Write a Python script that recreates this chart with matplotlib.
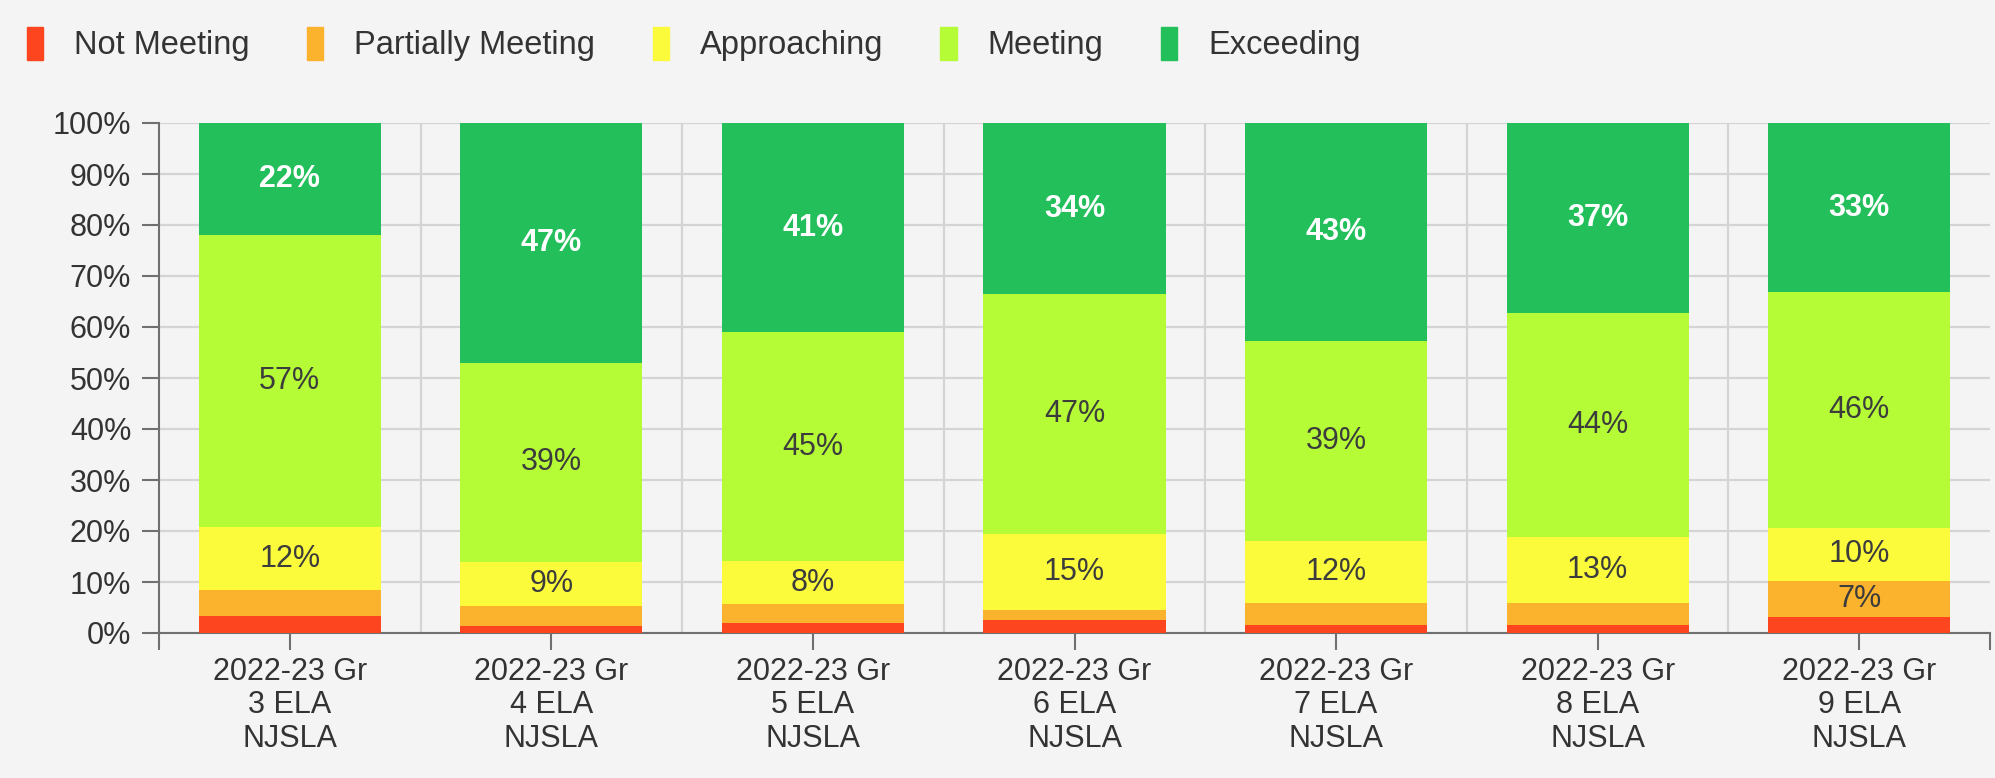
import matplotlib
matplotlib.use('Agg')
import matplotlib.pyplot as plt
import matplotlib.patches as mpatches
import numpy as np

plt.rcParams['font.family'] = ['Liberation Sans', 'DejaVu Sans']

# categories (x labels)
grades = ["2022-23 Gr\n3 ELA\nNJSLA", "2022-23 Gr\n4 ELA\nNJSLA", "2022-23 Gr\n5 ELA\nNJSLA",
          "2022-23 Gr\n6 ELA\nNJSLA", "2022-23 Gr\n7 ELA\nNJSLA", "2022-23 Gr\n8 ELA\nNJSLA",
          "2022-23 Gr\n9 ELA\nNJSLA"]

levels = ["Not Meeting", "Partially Meeting", "Approaching", "Meeting", "Exceeding"]

# percentages per level
not_meeting = [3.3, 1.3, 1.9, 2.5, 1.6, 1.5, 3.2]
partially = [5.1, 3.9, 3.8, 2.0, 4.3, 4.3, 7.0]
approaching = [12.4, 8.8, 8.4, 14.9, 12.2, 13.1, 10.4]
meeting = [57.2, 39.0, 44.9, 47.0, 39.2, 43.8, 46.2]
exceeding = [22.0, 47.0, 41.0, 33.6, 42.7, 37.3, 33.2]

series = [not_meeting, partially, approaching, meeting, exceeding]
colors = ["#fd4520", "#fbb32e", "#fbfb3c", "#b5fc37", "#22bf5b"]

bg = "#f4f4f4"
fig = plt.figure(figsize=(19.95, 7.78), dpi=100, facecolor=bg)
ax = fig.add_axes([159 / 1995, 145 / 778, 1831 / 1995, 510 / 778])
ax.set_facecolor(bg)

x = np.arange(len(grades))
bottom = np.zeros(len(grades))
for i, (vals, col) in enumerate(zip(series, colors)):
    vals = np.array(vals)
    ax.bar(x, vals, bottom=bottom, width=0.696, color=col, zorder=3)
    for xi, v, b in zip(x, vals, bottom):
        if v >= 6.5:
            if i == 4:
                ax.text(xi, b + v / 2, f"{v:.0f}%", ha="center", va="center",
                        fontsize=22, color="white", fontweight="bold", zorder=4)
            else:
                ax.text(xi, b + v / 2, f"{v:.0f}%", ha="center", va="center",
                        fontsize=22, color="#3c3c3c", zorder=4)
    bottom += vals

ax.set_xlim(-0.5, len(grades) - 0.5)
ax.set_ylim(0, 100)

# grid
ax.set_yticks(np.arange(0, 101, 10))
ax.set_yticklabels([f"{t}%" for t in range(0, 101, 10)])
ax.yaxis.grid(True, color="#d4d4d4", lw=1.6, zorder=0)
for b in x[:-1] + 0.5:
    ax.axvline(b, color="#d4d4d4", lw=1.6, zorder=0)
ax.set_axisbelow(True)

ax.set_xticks(x)
ax.set_xticklabels(grades, linespacing=1.15)
ax.set_xticks([-0.5, len(grades) - 0.5], minor=True)

for s in ["top", "right"]:
    ax.spines[s].set_visible(False)
for s in ["left", "bottom"]:
    ax.spines[s].set_color("#707070")
    ax.spines[s].set_linewidth(1.5)

ax.tick_params(axis="both", which="both", length=12, width=1.5, color="#707070",
               labelsize=22, labelcolor="#333333")
ax.tick_params(axis="y", pad=8)
ax.tick_params(axis="x", pad=5)

handles = [mpatches.Patch(color=c, label=l) for c, l in zip(colors, levels)]
fig.legend(handles=handles, ncol=5, loc="center left", bbox_to_anchor=(27 / 1995, 1 - 44 / 778),
           frameon=False, fontsize=23.5, handlelength=0.5, handleheight=1.2,
           handletextpad=0.95, columnspacing=1.75, borderpad=0, borderaxespad=0,
           labelcolor="#333333")

plt.savefig("out.png", dpi=100, facecolor=bg)
